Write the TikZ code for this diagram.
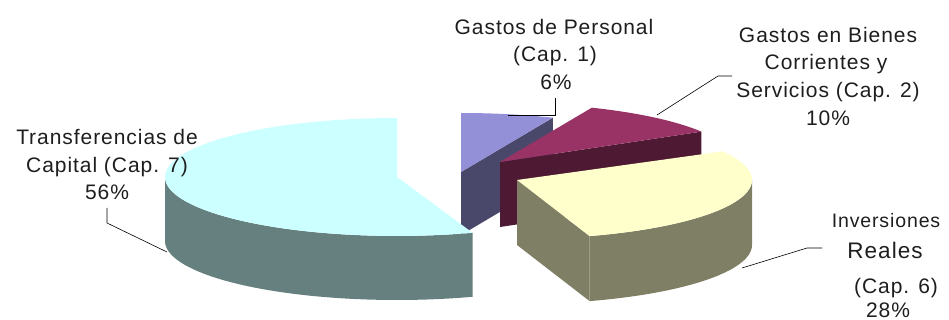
\documentclass[tikz,border=0pt]{standalone}
\usepackage{fontspec}
\setmainfont{Liberation Sans}[LetterSpace=4.5]
\definecolor{txt}{HTML}{1E1E1E}
\definecolor{cyanTop}{HTML}{CCFFFF}
\definecolor{cyanSide}{HTML}{667F7F}
\definecolor{purpTop}{HTML}{9490D8}
\definecolor{purpDark}{HTML}{4A486A}
\definecolor{marTop}{HTML}{993366}
\definecolor{marDark}{HTML}{4D1933}
\definecolor{yelTop}{HTML}{FFFFCC}
\definecolor{yelSide}{HTML}{7F7F66}
\begin{document}
\begin{tikzpicture}[x=1pt,y=-1pt,
  lbl/.style={anchor=base,inner sep=0pt,text=txt,font=\fontsize{21}{25}\selectfont},
  leader/.style={draw=black,line width=0.6pt}]
\useasboundingbox (0,0) rectangle (949,320);

% ---- Gastos de Personal (purple) ----
\fill[purpDark] (461,172) -- ({461+235*cos(67)},{172-59*sin(67)})
  -- ({461+235*cos(67)},{235-59*sin(67)}) -- (461,235) -- cycle;
\fill[purpTop] (461,172) -- plot[domain=67:90,samples=20] ({461+235*cos(\x)},{172-59*sin(\x)}) -- cycle;

% ---- Gastos en Bienes (maroon) ----
\fill[marDark] (500,162) -- ({500+235*cos(31)},{162-59*sin(31)})
  -- ({500+235*cos(31)},{227-59*sin(31)}) -- (500,227) -- cycle;
\fill[marTop] (500,162) -- plot[domain=31:67,samples=30] ({500+235*cos(\x)},{162-59*sin(\x)}) -- cycle;

% ---- Transferencias de Capital (cyan) ----
\fill[cyanSide] plot[domain=180:289,samples=60] ({397+232*cos(\x)},{177-59*sin(\x)})
  -- plot[domain=289:180,samples=60] ({397+232*cos(\x)},{241-59*sin(\x)}) -- cycle;
\fill[cyanTop] (397,177) -- plot[domain=90:289,samples=90] ({397+232*cos(\x)},{177-59*sin(\x)}) -- cycle;

% ---- Inversiones Reales (yellow) ----
\fill[yelSide] (517,180) -- ({517+235*cos(-72)},{180-59*sin(-72)})
  -- ({517+235*cos(-72)},{245-59*sin(-72)}) -- (517,245) -- cycle;
\fill[yelSide] plot[domain=-72:0,samples=50] ({517+235*cos(\x)},{180-59*sin(\x)})
  -- plot[domain=0:-72,samples=50] ({517+235*cos(\x)},{245-59*sin(\x)}) -- cycle;
\fill[yelTop] (517,180) -- plot[domain=29:-72,samples=70] ({517+235*cos(\x)},{180-59*sin(\x)}) -- cycle;

% ---- labels ----
\node[lbl] (p1) at (554,35) {Gastos de Personal};
\node[lbl] (p2) at (555,62) {(Cap. 1)};
\node[lbl] (p3) at (556,90) {6\%};

\node[lbl] (m1) at (828,43) {Gastos en Bienes};
\node[lbl] (m2) at (826,70) {Corrientes y};
\node[lbl] (m3) at (828,98) {Servicios (Cap. 2)};
\node[lbl] (m4) at (828,126) {10\%};

\node[lbl] (c1) at (107,145) {Transferencias de};
\node[lbl] (c2) at (107,173) {Capital (Cap. 7)};
\node[lbl] (c3) at (107,200) {56\%};

\node[lbl,font=\fontsize{19.5}{23}\selectfont] (y1) at (886,228) {Inversiones};
\node[lbl,font=\fontsize{22.5}{27}\selectfont] (y2) at (885,258) {Reales};
\node[lbl] (y3) at (896,293) {(Cap. 6)};
\node[lbl] (y4) at (888,317) {28\%};

% ---- leader lines ----
\coordinate (pA) at (508,115);
\coordinate (pB) at (555,98);
\draw[leader] (pA) -| (pB);
\coordinate (mA) at (657,115);
\coordinate (mB) at (732,76);
\draw[leader] (mA) -- (718,76) -- (mB);
\coordinate (cA) at (167,252);
\coordinate (cB) at (107,208);
\draw[leader] (cA) -- (107,223) -- (cB);
\coordinate (yA) at (742,268);
\coordinate (yB) at (822,248);
\draw[leader] (yA) -- (807,248) -- (yB);
\end{tikzpicture}
\end{document}
